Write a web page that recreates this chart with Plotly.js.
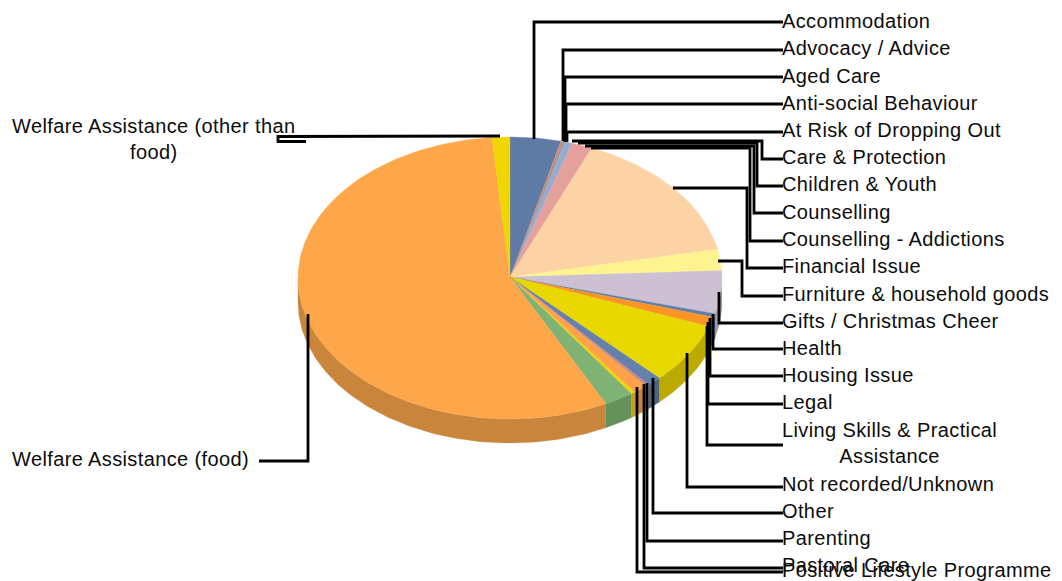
<!DOCTYPE html>
<html>
<head>
<meta charset="utf-8">
<script src="https://cdn.plot.ly/plotly-3.0.1.min.js"></script>
<style>
  html, body { margin: 0; padding: 0; background: #fff; }
  #chart { width: 1062px; height: 581px; }
  .annotation-text { letter-spacing: 0.38px; }
</style>
</head>
<body>
<div id="chart"></div>
<script>
// Service categories, clockwise from twelve o'clock.
const categories = [
  "Accommodation", "Advocacy / Advice", "Aged Care", "Anti-social Behaviour",
  "At Risk of Dropping Out", "Care & Protection", "Children & Youth", "Counselling",
  "Counselling - Addictions", "Financial Issue", "Furniture & household goods",
  "Gifts / Christmas Cheer", "Health", "Housing Issue", "Legal",
  "Living Skills & Practical Assistance", "Not recorded/Unknown", "Other", "Parenting",
  "Pastoral Care", "Positive Lifestyle Programme", "Unnamed", "Welfare Assistance (food)",
  "Welfare Assistance (other than food)"
];

// Share of all requests, percent.
const shares = [
  3.86, 0.17, 0.07, 0.07,
  0.56, 1.53, 0.02, 0.02,
  0.02, 15.4, 2.42,
  4.94, 0.42, 1.11, 0.02,
  0.02, 6.9, 1.1, 0.28,
  1.1, 0.28, 2.22, 56.1,
  1.36
];

const topColors = [
  "#5f7ba5", "#d97a6a", "#a3a25c", "#8f7fa8",
  "#94acd0", "#e5a09c", "#e5a09c", "#e5a09c",
  "#fdd2a5", "#fdd2a5", "#fdf490",
  "#cdc0d3", "#6080a8", "#fe9326", "#e8d800",
  "#e8d800", "#e8d800", "#6480ab", "#c98a80",
  "#fea24a", "#eed700", "#7fb273", "#fea64a",
  "#efd600"
];

const sideColors = [
  "#4a6083", "#aa5f52", "#7f7e48", "#706383",
  "#7387a2", "#b37d7a", "#b37d7a", "#b37d7a",
  "#c5a481", "#c5a481", "#c5be70",
  "#a096a4", "#4b6483", "#c6731d", "#bdaa00",
  "#bdaa00", "#bdaa00", "#4e6485", "#9d6c64",
  "#c8853b", "#bba900", "#66905c", "#c8853b",
  "#bba800"
];

// Label text and the vertical centre of each label.
const labelLines = [
  "Accommodation", "Advocacy / Advice", "Aged Care", "Anti-social Behaviour",
  "At Risk of Dropping Out", "Care & Protection", "Children & Youth", "Counselling",
  "Counselling - Addictions", "Financial Issue", "Furniture & household goods",
  "Gifts / Christmas Cheer", "Health", "Housing Issue", "Legal",
  "Living Skills & Practical<br>Assistance", "Not recorded/Unknown", "Other", "Parenting",
  "Pastoral Care", "Positive Lifestyle Programme"
];
const labelY = [20.5, 47.5, 75.5, 102.5, 129.5, 156.5, 183.5, 211.5, 238.5, 265.5, 293.5, 320.5, 347.5, 374.5, 401.5, 443, 483.5, 510.5, 537.5, 564.5, 570];

// Elbowed leader lines between the pie and its labels.
const leaderRoutes = [
  [[534, 139], [534, 22], [783, 22]],
  [[563, 141], [563, 50], [783, 50]],
  [[565, 142], [565, 77], [783, 77]],
  [[566, 142], [566, 104], [783, 104]],
  [[567, 142], [567, 132], [783, 132]],
  [[572, 141], [762, 141], [762, 159], [783, 159]],
  [[578, 143], [757, 143], [757, 186], [783, 186]],
  [[585, 146], [754, 146], [754, 213], [783, 213]],
  [[591, 148], [750, 148], [750, 241], [783, 241]],
  [[673, 188], [747, 188], [747, 268], [783, 268]],
  [[718, 261], [742, 261], [742, 296], [783, 296]],
  [[719, 292], [719, 323], [783, 323]],
  [[713, 314], [713, 349], [783, 349]],
  [[710, 318], [710, 376], [783, 376]],
  [[708, 322], [708, 404], [783, 404]],
  [[707, 326], [707, 445], [783, 445]],
  [[687, 353], [687, 487], [783, 487]],
  [[653, 378], [653, 513], [783, 513]],
  [[647, 383], [647, 541], [783, 541]],
  [[644, 384], [644, 568], [783, 568]],
  [[637, 387], [637, 572], [783, 572]],
  [[500, 136], [278, 136.5], [278, 141.5], [306, 141.5]],
  [[308, 314], [308, 461], [259, 461]]
];

// Tilted pie geometry, in axis units (the axes span the page in pixels).
const CX = 510, CY = 278, APEX_Y = 277, RX = 212, RY = 141, DEPTH = 24;
const rad = d => d * Math.PI / 180;
const rimX = d => CX + RX * Math.sin(rad(d));
const rimY = d => CY - RY * Math.cos(rad(d));

function arcDegrees(from, to) {
  const out = [from];
  for (let d = Math.ceil(from); d < to; d++) if (d > from) out.push(d);
  out.push(to);
  return out;
}

const total = shares.reduce((a, b) => a + b, 0);
const spans = [];
shares.reduce((start, v) => {
  const end = start + v / total * 360;
  spans.push([start, end]);
  return end;
}, 0);

const traces = [];

// Outer wall: only the front half of the rim is visible.
spans.forEach(([a, b], i) => {
  const from = Math.max(a, 90), to = Math.min(b, 270);
  if (to <= from) return;
  const arc = arcDegrees(from, to);
  const x = arc.map(rimX).concat(arc.slice().reverse().map(rimX));
  const y = arc.map(rimY).concat(arc.slice().reverse().map(d => rimY(d) + DEPTH));
  traces.push({
    type: "scatter", mode: "lines", x, y, fill: "toself", fillcolor: sideColors[i],
    line: { width: 0.3, color: sideColors[i] }, hoverinfo: "skip", showlegend: false
  });
});

// Top face wedges.
spans.forEach(([a, b], i) => {
  const arc = arcDegrees(a, b);
  traces.push({
    type: "scatter", mode: "lines",
    x: [CX].concat(arc.map(rimX), [CX]),
    y: [APEX_Y].concat(arc.map(rimY), [APEX_Y]),
    fill: "toself", fillcolor: topColors[i],
    line: { width: 0.3, color: topColors[i] },
    name: categories[i], text: categories[i], hoverinfo: "text", showlegend: false
  });
});

leaderRoutes.forEach(route => {
  traces.push({
    type: "scatter", mode: "lines",
    x: route.map(p => p[0]), y: route.map(p => p[1]),
    line: { width: 2.8, color: "#000000" }, hoverinfo: "skip", showlegend: false
  });
});

const labelFont = { family: "Liberation Sans, Arial, sans-serif", size: 20, color: "#0c0c0c" };
const plainLabel = (text, x, y, anchor, align) => ({
  text, x, y, xref: "x", yref: "y", xanchor: anchor, yanchor: "middle", align,
  showarrow: false, borderpad: 0, borderwidth: 0, font: labelFont
});

const annotations = labelLines.map((t, i) => plainLabel(t, 782, labelY[i], "left", "center"));
annotations.push(plainLabel("Welfare Assistance (other than<br>food)", 12, 138.5, "left", "center"));
annotations.push(plainLabel("Welfare Assistance (food)", 12, 458.5, "left", "center"));

Plotly.newPlot("chart", traces, {
  width: 1062, height: 581,
  margin: { l: 0, r: 0, t: 0, b: 0, pad: 0 },
  paper_bgcolor: "#ffffff", plot_bgcolor: "#ffffff",
  showlegend: false,
  xaxis: { range: [0, 1062], visible: false, fixedrange: true },
  yaxis: { range: [581, 0], visible: false, fixedrange: true },
  annotations
}, { displayModeBar: false, staticPlot: false });
</script>
</body>
</html>
